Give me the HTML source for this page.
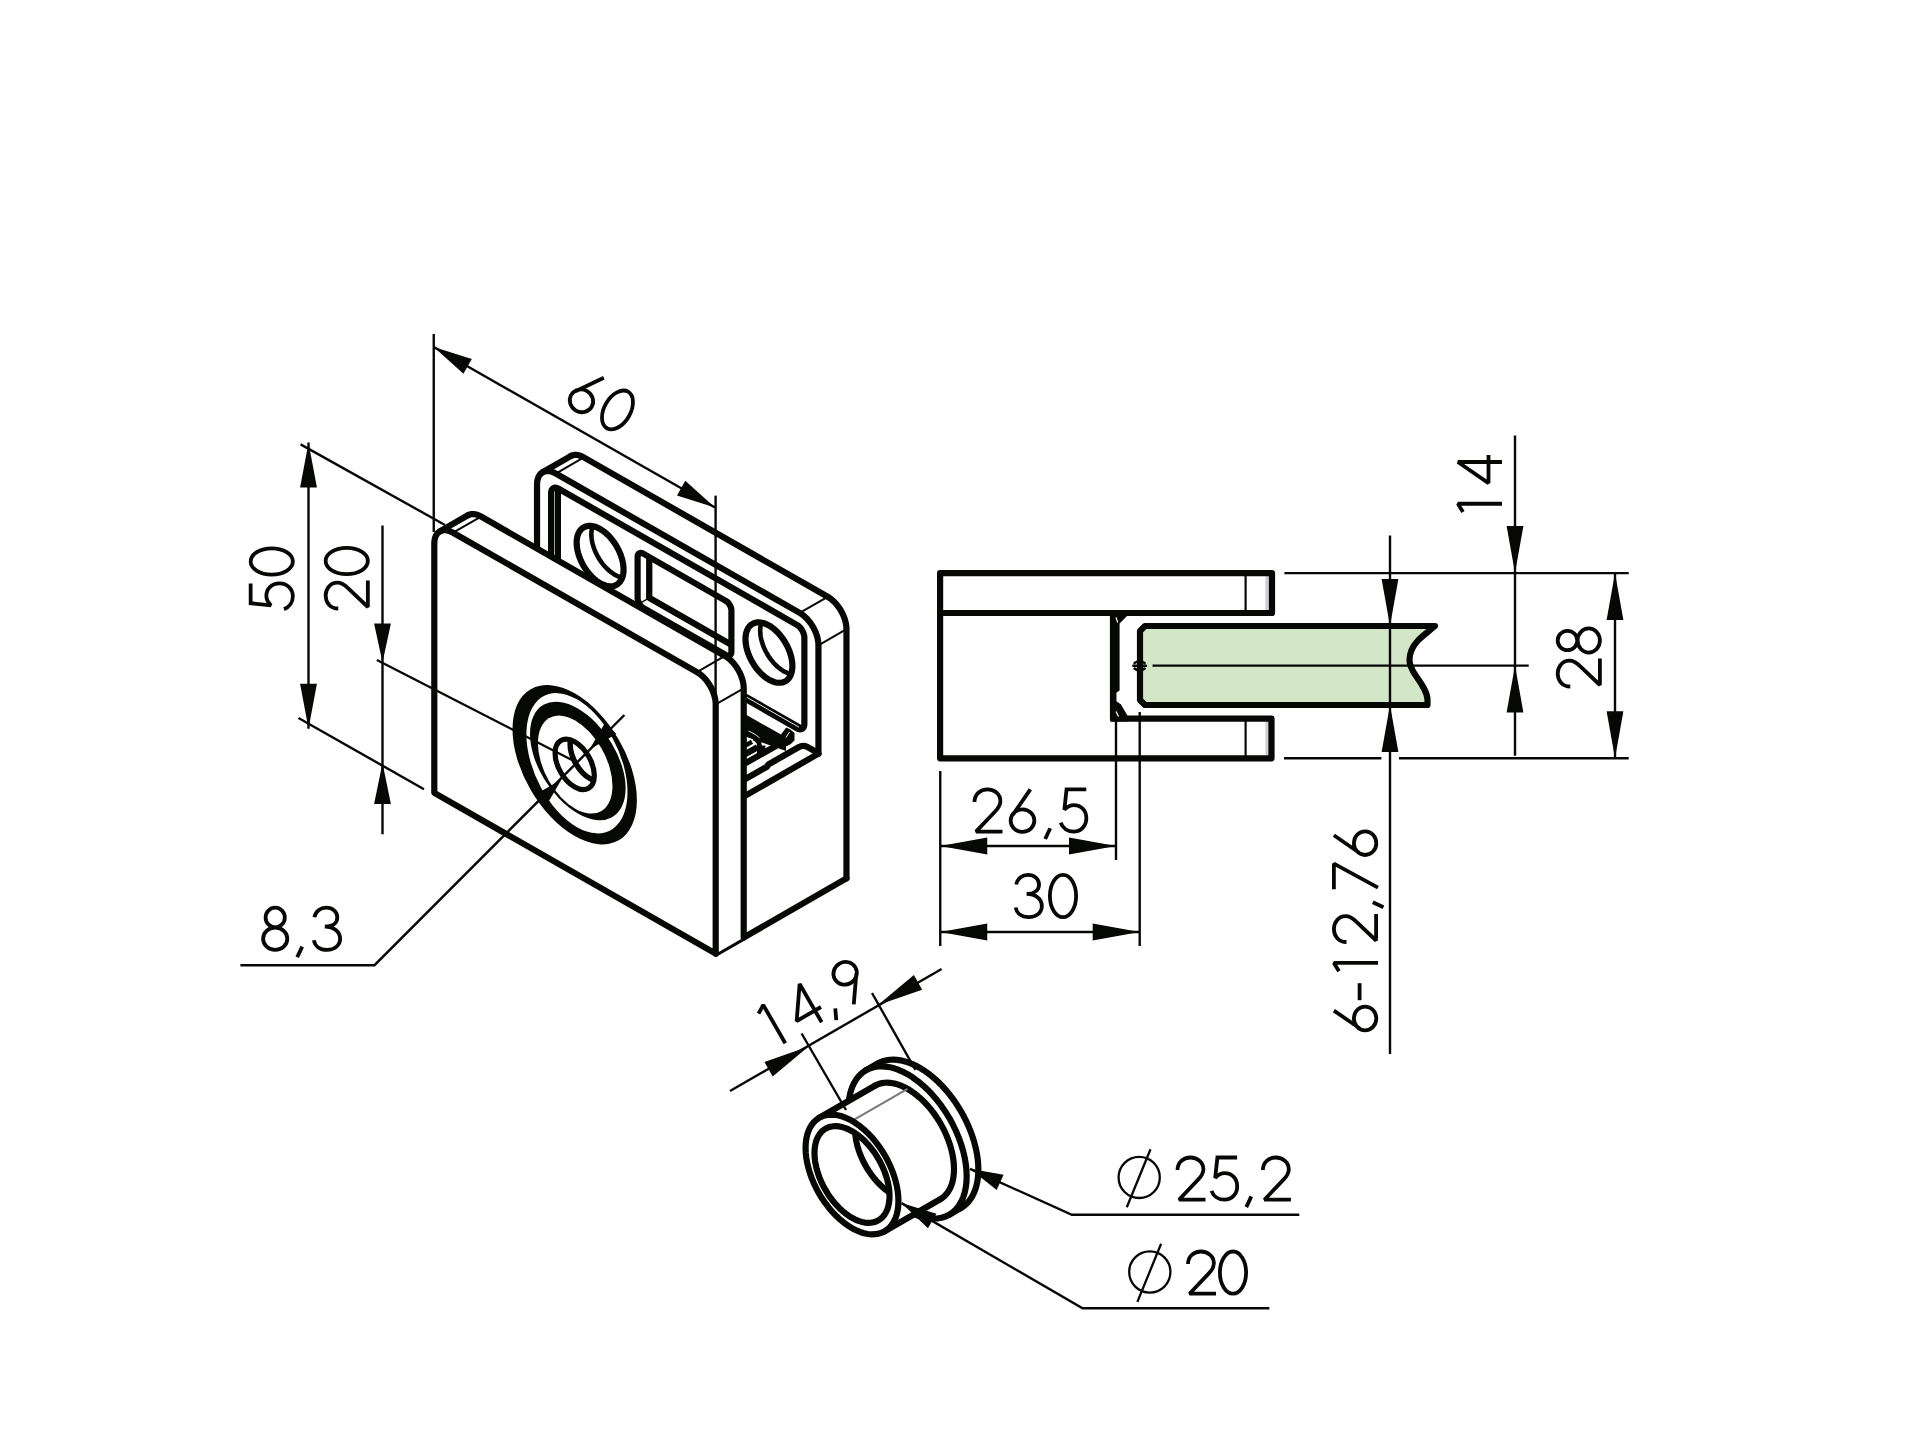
<!DOCTYPE html><html><head><meta charset="utf-8"><style>html,body{margin:0;padding:0;background:#fff;font-family:"Liberation Sans",sans-serif;}svg{display:block;}</style></head><body><svg width="1920" height="1440" viewBox="0 0 1920 1440">
<rect width="1920" height="1440" fill="#ffffff"/>
<rect x="1265.4" y="576" width="3.6" height="34" fill="#d2c9da"/>
<rect x="1265.4" y="721.5" width="3.6" height="34" fill="#d2c9da"/>
<line x1="1245.60" y1="573.10" x2="1245.60" y2="613.00" stroke="#060806" stroke-width="2.2" stroke-linecap="butt"/>
<line x1="1245.60" y1="718.70" x2="1245.60" y2="758.30" stroke="#060806" stroke-width="2.2" stroke-linecap="butt"/>
<path d="M1140,631 L1145,626 L1435,626 C1428,632 1421,637 1417.5,641 C1413,646 1409.5,653 1409.5,660 C1409.5,666 1412.5,671 1416,676 C1421,683 1427.5,692 1427.5,700 L1427.5,705 L1145,705 L1140,700 Z" fill="#d3e6c8" stroke="#060806" stroke-width="6.2" stroke-linejoin="round" stroke-linecap="round" />
<path d="M940.10,573.10 L1272.00,573.10 L1272.00,613.00 L1113.00,613.00 L1113.00,718.70 L1271.50,718.70 L1271.50,758.30 L940.10,758.30 Z" fill="none" stroke="#060806" stroke-width="6.2" stroke-linejoin="round" stroke-linecap="round"/>
<line x1="940.10" y1="613.00" x2="1113.00" y2="613.00" stroke="#060806" stroke-width="6.2" stroke-linecap="butt"/>
<path d="M1110.20,613.00 L1127.50,613.00 L1127.50,615.50 L1119.60,623.50 L1119.60,690.50 L1116.40,692.80 L1116.40,701.20 L1120.80,704.20 L1127.30,715.20 L1127.30,721.50 L1110.20,721.50 Z" fill="#060806" stroke="none"/>
<line x1="1116.00" y1="617.50" x2="1117.80" y2="622.50" stroke="#ffffff" stroke-width="1.2" stroke-linecap="butt"/>
<line x1="1116.00" y1="711.50" x2="1118.50" y2="716.50" stroke="#ffffff" stroke-width="1.2" stroke-linecap="butt"/>
<line x1="1152.50" y1="665.60" x2="1528.75" y2="665.60" stroke="#060806" stroke-width="2.4" stroke-linecap="butt"/>
<path d="M1134.6,663.0 Q1139.6,659.6 1144.6,663.0 M1133.3,665.8 L1145.9,665.8 M1134.6,668.6 Q1139.6,672.0 1144.6,668.6" fill="none" stroke="#060806" stroke-width="2.5" stroke-linecap="round"/>
<path d="M537.04,592.83 L537.04,484.49 L537.08,483.09 L537.20,481.75 L537.40,480.47 L537.68,479.25 L538.04,478.09 L538.47,477.01 L538.97,476.01 L539.55,475.09 L540.20,474.26 L540.92,473.51 L541.70,472.86 L542.53,472.31 L543.43,471.85 L544.38,471.49 L545.38,471.24 L546.42,471.08 L547.50,471.03 L548.62,471.09 L549.77,471.24 L550.94,471.50 L552.14,471.86 L553.35,472.33 L554.57,472.89 L555.80,473.54 L799.68,612.90 L800.91,613.65 L802.13,614.48 L803.34,615.41 L804.54,616.41 L805.71,617.50 L806.86,618.65 L807.98,619.88 L809.06,621.16 L810.10,622.51 L811.10,623.90 L812.05,625.35 L812.95,626.83 L813.78,628.34 L814.56,629.88 L815.28,631.44 L815.93,633.02 L816.51,634.60 L817.01,636.18 L817.44,637.75 L817.80,639.31 L818.08,640.85 L818.28,642.37 L818.40,643.85 L818.44,645.29 L818.44,753.63" fill="none" stroke="#060806" stroke-width="6.2" stroke-linejoin="round" stroke-linecap="round"/>
<path d="M570.65,456.11 L571.09,455.88 L571.54,455.67 L572.01,455.48 L572.49,455.32 L572.98,455.19 L573.48,455.08 L573.99,455.00 L574.52,454.94 L575.05,454.90 L575.59,454.89 L576.14,454.91 L576.70,454.95 L577.27,455.02 L577.84,455.11 L578.42,455.23 L579.01,455.37 L579.60,455.54 L580.19,455.74 L580.79,455.95 L581.39,456.20 L582.00,456.46 L582.60,456.75 L583.21,457.06 L583.82,457.40 L827.70,596.76 L828.93,597.51 L830.15,598.34 L831.36,599.27 L832.56,600.27 L833.73,601.36 L834.88,602.51 L836.00,603.74 L837.08,605.02 L838.12,606.37 L839.12,607.76 L840.07,609.21 L840.97,610.69 L841.80,612.20 L842.58,613.74 L843.30,615.30 L843.95,616.88 L844.53,618.46 L845.03,620.04 L845.46,621.61 L845.82,623.17 L846.10,624.71 L846.30,626.23 L846.42,627.71 L846.46,629.15 L846.46,878.33" fill="none" stroke="#060806" stroke-width="6.2" stroke-linejoin="round" stroke-linecap="round"/>
<path d="M542.63,472.25 L570.65,456.11" fill="none" stroke="#060806" stroke-width="6.2" stroke-linejoin="round" stroke-linecap="round"/>
<line x1="555.80" y1="473.54" x2="583.82" y2="457.40" stroke="#060806" stroke-width="2.0" stroke-linecap="butt"/>
<line x1="799.68" y1="612.90" x2="827.70" y2="596.76" stroke="#060806" stroke-width="2.0" stroke-linecap="butt"/>
<line x1="818.44" y1="645.29" x2="846.46" y2="629.15" stroke="#060806" stroke-width="2.0" stroke-linecap="butt"/>
<clipPath id="c1"><path d="M804.37,637.79 L804.28,636.38 L804.00,634.90 L803.55,633.39 L802.94,631.88 L802.17,630.41 L801.28,629.01 L800.27,627.73 L799.18,626.58 L798.04,625.61 L796.87,624.83 L558.61,488.69 L557.44,488.13 L556.30,487.79 L555.21,487.69 L554.20,487.83 L553.31,488.20 L552.54,488.79 L551.93,489.60 L551.48,490.60 L551.20,491.77 L551.11,493.07 L551.11,579.20 L551.20,580.61 L551.48,582.09 L551.93,583.60 L552.54,585.11 L553.31,586.58 L554.20,587.98 L555.21,589.26 L556.30,590.41 L557.44,591.38 L558.61,592.16 L796.87,728.30 L798.04,728.86 L799.18,729.20 L800.27,729.30 L801.28,729.16 L802.17,728.79 L802.94,728.20 L803.55,727.39 L804.00,726.39 L804.28,725.22 L804.37,723.92 Z"/></clipPath>
<g clip-path="url(#c1)">
<path d="M811.14,625.22 L565.39,484.79 L564.21,484.23 L563.07,483.89 L561.98,483.79 L560.97,483.92 L560.08,484.30 L559.31,484.89 L558.70,485.70 L558.25,486.70 L557.97,487.87 L557.88,489.17 L557.88,594.80" fill="none" stroke="#060806" stroke-width="6.2" stroke-linejoin="round" stroke-linecap="round"/>
</g>
<path d="M804.37,637.79 L804.28,636.38 L804.00,634.90 L803.55,633.39 L802.94,631.88 L802.17,630.41 L801.28,629.01 L800.27,627.73 L799.18,626.58 L798.04,625.61 L796.87,624.83 L558.61,488.69 L557.44,488.13 L556.30,487.79 L555.21,487.69 L554.20,487.83 L553.31,488.20 L552.54,488.79 L551.93,489.60 L551.48,490.60 L551.20,491.77 L551.11,493.07 L551.11,579.20 L551.20,580.61 L551.48,582.09 L551.93,583.60 L552.54,585.11 L553.31,586.58 L554.20,587.98 L555.21,589.26 L556.30,590.41 L557.44,591.38 L558.61,592.16 L796.87,728.30 L798.04,728.86 L799.18,729.20 L800.27,729.30 L801.28,729.16 L802.17,728.79 L802.94,728.20 L803.55,727.39 L804.00,726.39 L804.28,725.22 L804.37,723.92 Z" fill="none" stroke="#060806" stroke-width="6.2" stroke-linejoin="round" stroke-linecap="round"/>
<clipPath id="c2"><path d="M623.54,569.48 L623.45,567.07 L623.19,564.58 L622.74,562.02 L622.13,559.41 L621.34,556.78 L620.40,554.15 L619.30,551.52 L618.06,548.94 L616.67,546.41 L615.16,543.95 L613.54,541.58 L611.82,539.33 L610.00,537.20 L608.11,535.21 L606.16,533.39 L604.16,531.74 L602.14,530.27 L600.09,529.00 L598.05,527.93 L596.02,527.08 L594.02,526.45 L592.07,526.05 L590.18,525.87 L588.37,525.93 L586.64,526.21 L585.02,526.72 L583.51,527.46 L582.13,528.41 L580.88,529.57 L579.78,530.94 L578.84,532.49 L578.06,534.23 L577.44,536.13 L577.00,538.18 L576.73,540.37 L576.64,542.68 L576.73,545.10 L577.00,547.59 L577.44,550.15 L578.06,552.76 L578.84,555.39 L579.78,558.02 L580.88,560.64 L582.13,563.23 L583.51,565.76 L585.02,568.22 L586.64,570.58 L588.37,572.84 L590.18,574.97 L592.07,576.95 L594.02,578.78 L596.02,580.43 L598.05,581.90 L600.09,583.17 L602.14,584.23 L604.16,585.08 L606.16,585.71 L608.11,586.12 L610.00,586.29 L611.82,586.24 L613.54,585.96 L615.16,585.45 L616.67,584.71 L618.06,583.76 L619.30,582.60 L620.40,581.23 L621.34,579.67 L622.13,577.94 L622.74,576.04 L623.19,573.98 L623.45,571.79 L623.54,569.48 Z"/></clipPath>
<g clip-path="url(#c2)">
<path d="M638.25,561.01 L638.16,558.60 L637.90,556.10 L637.45,553.54 L636.84,550.94 L636.05,548.31 L635.11,545.67 L634.01,543.05 L632.77,540.47 L631.38,537.93 L629.88,535.48 L628.25,533.11 L626.53,530.85 L624.71,528.73 L622.82,526.74 L620.87,524.92 L618.87,523.26 L616.85,521.80 L614.80,520.53 L612.76,519.46 L610.73,518.61 L608.73,517.98 L606.78,517.58 L604.89,517.40 L603.08,517.45 L601.35,517.74 L599.73,518.25 L598.22,518.98 L596.84,519.94 L595.59,521.10 L594.49,522.46 L593.55,524.02 L592.77,525.75 L592.15,527.66 L591.71,529.71 L591.44,531.90 L591.35,534.21 L591.44,536.62 L591.71,539.12 L592.15,541.68 L592.77,544.28 L593.55,546.91 L594.49,549.55 L595.59,552.17 L596.84,554.75 L598.22,557.29 L599.73,559.74 L601.35,562.11 L603.08,564.37 L604.89,566.49 L606.78,568.48 L608.73,570.30 L610.73,571.96 L612.76,573.42 L614.80,574.70 L616.85,575.76 L618.87,576.61 L620.87,577.24 L622.82,577.64 L624.71,577.82 L626.53,577.77 L628.25,577.48 L629.88,576.97 L631.38,576.24 L632.77,575.28 L634.01,574.12 L635.11,572.76 L636.05,571.20 L636.84,569.47 L637.45,567.56 L637.90,565.51 L638.16,563.32 L638.25,561.01 Z" fill="none" stroke="#060806" stroke-width="4.6" stroke-linejoin="round" stroke-linecap="round"/>
</g>
<path d="M623.54,569.48 L623.45,567.07 L623.19,564.58 L622.74,562.02 L622.13,559.41 L621.34,556.78 L620.40,554.15 L619.30,551.52 L618.06,548.94 L616.67,546.41 L615.16,543.95 L613.54,541.58 L611.82,539.33 L610.00,537.20 L608.11,535.21 L606.16,533.39 L604.16,531.74 L602.14,530.27 L600.09,529.00 L598.05,527.93 L596.02,527.08 L594.02,526.45 L592.07,526.05 L590.18,525.87 L588.37,525.93 L586.64,526.21 L585.02,526.72 L583.51,527.46 L582.13,528.41 L580.88,529.57 L579.78,530.94 L578.84,532.49 L578.06,534.23 L577.44,536.13 L577.00,538.18 L576.73,540.37 L576.64,542.68 L576.73,545.10 L577.00,547.59 L577.44,550.15 L578.06,552.76 L578.84,555.39 L579.78,558.02 L580.88,560.64 L582.13,563.23 L583.51,565.76 L585.02,568.22 L586.64,570.58 L588.37,572.84 L590.18,574.97 L592.07,576.95 L594.02,578.78 L596.02,580.43 L598.05,581.90 L600.09,583.17 L602.14,584.23 L604.16,585.08 L606.16,585.71 L608.11,586.12 L610.00,586.29 L611.82,586.24 L613.54,585.96 L615.16,585.45 L616.67,584.71 L618.06,583.76 L619.30,582.60 L620.40,581.23 L621.34,579.67 L622.13,577.94 L622.74,576.04 L623.19,573.98 L623.45,571.79 L623.54,569.48 Z" fill="none" stroke="#060806" stroke-width="6.2" stroke-linejoin="round" stroke-linecap="round"/>
<clipPath id="c3"><path d="M792.38,665.96 L792.29,663.55 L792.03,661.06 L791.58,658.50 L790.97,655.89 L790.18,653.26 L789.24,650.63 L788.14,648.00 L786.90,645.42 L785.51,642.89 L784.00,640.43 L782.38,638.06 L780.66,635.81 L778.84,633.68 L776.95,631.69 L775.00,629.87 L773.00,628.22 L770.98,626.75 L768.93,625.48 L766.89,624.41 L764.86,623.56 L762.86,622.93 L760.91,622.53 L759.02,622.35 L757.21,622.41 L755.48,622.69 L753.86,623.20 L752.35,623.94 L750.97,624.89 L749.72,626.05 L748.62,627.42 L747.68,628.97 L746.90,630.71 L746.28,632.61 L745.84,634.66 L745.57,636.85 L745.48,639.16 L745.57,641.58 L745.84,644.07 L746.28,646.63 L746.90,649.24 L747.68,651.87 L748.62,654.50 L749.72,657.12 L750.97,659.71 L752.35,662.24 L753.86,664.70 L755.48,667.06 L757.21,669.32 L759.02,671.45 L760.91,673.43 L762.86,675.26 L764.86,676.91 L766.89,678.38 L768.93,679.65 L770.98,680.71 L773.00,681.56 L775.00,682.19 L776.95,682.60 L778.84,682.77 L780.66,682.72 L782.38,682.44 L784.00,681.93 L785.51,681.19 L786.90,680.24 L788.14,679.08 L789.24,677.71 L790.18,676.15 L790.97,674.42 L791.58,672.52 L792.03,670.46 L792.29,668.27 L792.38,665.96 Z"/></clipPath>
<g clip-path="url(#c3)">
<path d="M807.09,657.49 L807.00,655.08 L806.74,652.58 L806.29,650.02 L805.68,647.42 L804.89,644.79 L803.95,642.15 L802.85,639.53 L801.61,636.95 L800.22,634.41 L798.72,631.96 L797.09,629.59 L795.37,627.33 L793.55,625.21 L791.66,623.22 L789.71,621.40 L787.71,619.74 L785.69,618.28 L783.64,617.01 L781.60,615.94 L779.57,615.09 L777.57,614.46 L775.62,614.06 L773.73,613.88 L771.92,613.93 L770.19,614.22 L768.57,614.73 L767.06,615.46 L765.68,616.42 L764.43,617.58 L763.33,618.94 L762.39,620.50 L761.61,622.23 L760.99,624.14 L760.55,626.19 L760.28,628.38 L760.19,630.69 L760.28,633.10 L760.55,635.60 L760.99,638.16 L761.61,640.76 L762.39,643.39 L763.33,646.03 L764.43,648.65 L765.68,651.23 L767.06,653.77 L768.57,656.22 L770.19,658.59 L771.92,660.85 L773.73,662.97 L775.62,664.96 L777.57,666.78 L779.57,668.44 L781.60,669.90 L783.64,671.18 L785.69,672.24 L787.71,673.09 L789.71,673.72 L791.66,674.12 L793.55,674.30 L795.37,674.25 L797.09,673.96 L798.72,673.45 L800.22,672.72 L801.61,671.76 L802.85,670.60 L803.95,669.24 L804.89,667.68 L805.68,665.95 L806.29,664.04 L806.74,661.99 L807.00,659.80 L807.09,657.49 Z" fill="none" stroke="#060806" stroke-width="4.6" stroke-linejoin="round" stroke-linecap="round"/>
</g>
<path d="M792.38,665.96 L792.29,663.55 L792.03,661.06 L791.58,658.50 L790.97,655.89 L790.18,653.26 L789.24,650.63 L788.14,648.00 L786.90,645.42 L785.51,642.89 L784.00,640.43 L782.38,638.06 L780.66,635.81 L778.84,633.68 L776.95,631.69 L775.00,629.87 L773.00,628.22 L770.98,626.75 L768.93,625.48 L766.89,624.41 L764.86,623.56 L762.86,622.93 L760.91,622.53 L759.02,622.35 L757.21,622.41 L755.48,622.69 L753.86,623.20 L752.35,623.94 L750.97,624.89 L749.72,626.05 L748.62,627.42 L747.68,628.97 L746.90,630.71 L746.28,632.61 L745.84,634.66 L745.57,636.85 L745.48,639.16 L745.57,641.58 L745.84,644.07 L746.28,646.63 L746.90,649.24 L747.68,651.87 L748.62,654.50 L749.72,657.12 L750.97,659.71 L752.35,662.24 L753.86,664.70 L755.48,667.06 L757.21,669.32 L759.02,671.45 L760.91,673.43 L762.86,675.26 L764.86,676.91 L766.89,678.38 L768.93,679.65 L770.98,680.71 L773.00,681.56 L775.00,682.19 L776.95,682.60 L778.84,682.77 L780.66,682.72 L782.38,682.44 L784.00,681.93 L785.51,681.19 L786.90,680.24 L788.14,679.08 L789.24,677.71 L790.18,676.15 L790.97,674.42 L791.58,672.52 L792.03,670.46 L792.29,668.27 L792.38,665.96 Z" fill="none" stroke="#060806" stroke-width="6.2" stroke-linejoin="round" stroke-linecap="round"/>
<clipPath id="c4"><path d="M731.41,610.54 L731.34,609.48 L731.14,608.37 L730.80,607.24 L730.34,606.10 L729.76,605.00 L729.09,603.95 L728.34,602.99 L727.52,602.13 L726.66,601.41 L725.78,600.82 L643.24,553.65 L642.36,553.23 L641.50,552.98 L640.68,552.90 L639.93,553.01 L639.26,553.28 L638.69,553.73 L638.22,554.34 L637.89,555.09 L637.68,555.96 L637.61,556.94 L637.61,598.11 L637.68,599.16 L637.89,600.27 L638.22,601.41 L638.69,602.54 L639.26,603.65 L639.93,604.69 L640.68,605.66 L641.50,606.51 L642.36,607.24 L643.24,607.82 L725.78,654.99 L726.66,655.42 L727.52,655.67 L728.34,655.74 L729.09,655.64 L729.76,655.36 L730.34,654.91 L730.80,654.31 L731.14,653.56 L731.34,652.69 L731.41,651.71 Z"/></clipPath>
<g clip-path="url(#c4)">
<path d="M743.09,598.13 L743.08,597.99 L743.05,597.86 L743.01,597.71 L742.95,597.57 L742.88,597.43 L742.80,597.30 L742.70,597.18 L742.60,597.08 L742.49,596.98 L742.38,596.91 L649.99,544.12 L649.88,544.06 L649.77,544.03 L649.67,544.02 L649.58,544.03 L649.49,544.07 L649.42,544.13 L649.36,544.20 L649.32,544.29 L649.30,544.40 L649.29,544.53 L649.29,597.07 L649.30,597.20 L649.32,597.34 L649.36,597.48 L649.42,597.63 L649.49,597.76 L649.58,597.89 L649.67,598.01 L649.77,598.12 L649.88,598.21 L649.99,598.29 L742.38,651.08 L742.49,651.13 L742.60,651.17 L742.70,651.18 L742.80,651.16 L742.88,651.13 L742.95,651.07 L743.01,651.00 L743.05,650.90 L743.08,650.79 L743.09,650.67 Z" fill="none" stroke="#060806" stroke-width="6.2" stroke-linejoin="round" stroke-linecap="round"/>
<path d="M740.99,599.34 L740.98,599.20 L740.95,599.07 L740.91,598.92 L740.85,598.78 L740.78,598.64 L740.70,598.51 L740.60,598.39 L740.50,598.29 L740.39,598.19 L740.28,598.12 L647.89,545.33 L647.78,545.27 L647.67,545.24 L647.57,545.23 L647.47,545.24 L647.39,545.28 L647.32,545.34 L647.26,545.41 L647.22,545.51 L647.19,545.61 L647.19,545.74 L647.19,598.28 L647.19,598.41 L647.22,598.55 L647.26,598.69 L647.32,598.84 L647.39,598.97 L647.47,599.10 L647.57,599.22 L647.67,599.33 L647.78,599.42 L647.89,599.50 L740.28,652.29 L740.39,652.34 L740.50,652.38 L740.60,652.39 L740.70,652.37 L740.78,652.34 L740.85,652.28 L740.91,652.21 L740.95,652.11 L740.98,652.00 L740.99,651.88 Z" fill="none" stroke="#060806" stroke-width="1.4" stroke-linejoin="round" stroke-linecap="round"/>
<line x1="637.61" y1="604.61" x2="649.29" y2="597.88" stroke="#060806" stroke-width="1.4" stroke-linecap="butt"/>
</g>
<path d="M731.41,610.54 L731.34,609.48 L731.14,608.37 L730.80,607.24 L730.34,606.10 L729.76,605.00 L729.09,603.95 L728.34,602.99 L727.52,602.13 L726.66,601.41 L725.78,600.82 L643.24,553.65 L642.36,553.23 L641.50,552.98 L640.68,552.90 L639.93,553.01 L639.26,553.28 L638.69,553.73 L638.22,554.34 L637.89,555.09 L637.68,555.96 L637.61,556.94 L637.61,598.11 L637.68,599.16 L637.89,600.27 L638.22,601.41 L638.69,602.54 L639.26,603.65 L639.93,604.69 L640.68,605.66 L641.50,606.51 L642.36,607.24 L643.24,607.82 L725.78,654.99 L726.66,655.42 L727.52,655.67 L728.34,655.74 L729.09,655.64 L729.76,655.36 L730.34,654.91 L730.80,654.31 L731.14,653.56 L731.34,652.69 L731.41,651.71 Z" fill="none" stroke="#060806" stroke-width="6.2" stroke-linejoin="round" stroke-linecap="round"/>
<line x1="715.70" y1="953.65" x2="846.46" y2="878.33" stroke="#060806" stroke-width="6.2" stroke-linecap="round"/>
<line x1="743.72" y1="796.67" x2="818.44" y2="753.63" stroke="#060806" stroke-width="6.2" stroke-linecap="round"/>
<path d="M744,695.2 L801.5,728.0" fill="none" stroke="#060806" stroke-width="5.2" stroke-linejoin="round" stroke-linecap="butt" />
<path d="M747,697.4 L799,727.2" fill="none" stroke="#ffffff" stroke-width="0.9" stroke-linejoin="round" stroke-linecap="butt" />
<path d="M744.00,713.50 L781.00,734.60 L786.20,727.60 L790.00,729.30 L794.50,733.00 L794.50,740.60 L790.50,744.20 L786.00,746.50 L786.00,751.00 L744.00,736.00 Z" fill="#060806" stroke="none"/>
<path d="M748.5,731.0 C752,732.6 756,734.6 759.5,737.8" fill="none" stroke="#ffffff" stroke-width="0.9" stroke-linejoin="round" stroke-linecap="butt" />
<path d="M789.5,732 L786,737.5" fill="none" stroke="#ffffff" stroke-width="1.0" stroke-linejoin="round" stroke-linecap="butt" />
<path d="M744,779.8 L767,766.7 C768,764.5 769.5,763.5 771,763 L798.5,747.2 C801.5,745.5 804.5,745.5 807,746.8 L818.6,753.3" fill="none" stroke="#060806" stroke-width="6.2" stroke-linejoin="round" stroke-linecap="butt" />
<path d="M744,764.0 L778,744.8" fill="none" stroke="#060806" stroke-width="6.2" stroke-linejoin="round" stroke-linecap="butt" />
<path d="M744,754.8 L757.5,747.3" fill="none" stroke="#060806" stroke-width="6.2" stroke-linejoin="round" stroke-linecap="butt" />
<path d="M744,746.2 L752,741.8" fill="none" stroke="#060806" stroke-width="4.5" stroke-linejoin="round" stroke-linecap="butt" />
<path d="M759.4,753.5 L759.4,745.5 C759.4,742 757.5,739.5 753.5,738.0" fill="none" stroke="#060806" stroke-width="4.8" stroke-linejoin="round" stroke-linecap="butt" />
<path d="M763.0,751.5 L763.0,745.5" fill="none" stroke="#060806" stroke-width="4.8" stroke-linejoin="round" stroke-linecap="butt" />
<path d="M434.30,792.85 L434.30,543.67 L434.31,542.96 L434.34,542.26 L434.39,541.58 L434.46,540.91 L434.56,540.25 L434.67,539.61 L434.80,538.99 L434.95,538.38 L435.12,537.79 L435.31,537.22 L435.52,536.67 L435.75,536.14 L436.00,535.62 L436.27,535.13 L436.55,534.66 L436.86,534.21 L437.18,533.78 L437.52,533.37 L437.87,532.99 L438.24,532.63 L438.63,532.29 L439.03,531.98 L439.45,531.70 L439.89,531.43 L467.91,515.29 L468.35,515.06 L468.80,514.85 L469.27,514.66 L469.75,514.50 L470.24,514.37 L470.74,514.26 L471.25,514.18 L471.78,514.12 L472.31,514.08 L472.85,514.07 L473.40,514.09 L473.96,514.13 L474.53,514.20 L475.10,514.29 L475.68,514.41 L476.27,514.55 L476.86,514.72 L477.45,514.92 L478.05,515.13 L478.65,515.38 L479.26,515.64 L479.86,515.93 L480.47,516.24 L481.08,516.58 L724.96,655.94 L726.19,656.69 L727.41,657.52 L728.62,658.45 L729.82,659.45 L730.99,660.54 L732.14,661.69 L733.26,662.92 L734.34,664.20 L735.38,665.55 L736.38,666.94 L737.33,668.39 L738.23,669.87 L739.06,671.38 L739.84,672.92 L740.56,674.48 L741.21,676.06 L741.79,677.64 L742.29,679.22 L742.72,680.79 L743.08,682.35 L743.36,683.89 L743.56,685.41 L743.68,686.89 L743.72,688.33 L743.72,937.51 L715.70,953.65 Z" fill="#ffffff" stroke="none"/>
<path d="M434.30,792.85 L434.30,543.67 L434.34,542.27 L434.46,540.93 L434.66,539.65 L434.94,538.43 L435.30,537.27 L435.73,536.19 L436.23,535.19 L436.81,534.27 L437.46,533.44 L438.18,532.69 L438.96,532.04 L439.79,531.49 L440.69,531.03 L441.64,530.67 L442.64,530.42 L443.68,530.26 L444.76,530.21 L445.88,530.27 L447.03,530.42 L448.20,530.68 L449.40,531.04 L450.61,531.51 L451.83,532.07 L453.06,532.72 L696.94,672.08 L698.17,672.83 L699.39,673.66 L700.60,674.59 L701.80,675.59 L702.97,676.68 L704.12,677.83 L705.24,679.06 L706.32,680.34 L707.36,681.69 L708.36,683.08 L709.31,684.53 L710.21,686.01 L711.04,687.52 L711.82,689.06 L712.54,690.62 L713.19,692.20 L713.77,693.78 L714.27,695.36 L714.70,696.93 L715.06,698.49 L715.34,700.03 L715.54,701.55 L715.66,703.03 L715.70,704.47 L715.70,953.65 Z" fill="none" stroke="#060806" stroke-width="6.2" stroke-linejoin="round" stroke-linecap="round"/>
<path d="M467.91,515.29 L468.35,515.06 L468.80,514.85 L469.27,514.66 L469.75,514.50 L470.24,514.37 L470.74,514.26 L471.25,514.18 L471.78,514.12 L472.31,514.08 L472.85,514.07 L473.40,514.09 L473.96,514.13 L474.53,514.20 L475.10,514.29 L475.68,514.41 L476.27,514.55 L476.86,514.72 L477.45,514.92 L478.05,515.13 L478.65,515.38 L479.26,515.64 L479.86,515.93 L480.47,516.24 L481.08,516.58 L724.96,655.94 L726.19,656.69 L727.41,657.52 L728.62,658.45 L729.82,659.45 L730.99,660.54 L732.14,661.69 L733.26,662.92 L734.34,664.20 L735.38,665.55 L736.38,666.94 L737.33,668.39 L738.23,669.87 L739.06,671.38 L739.84,672.92 L740.56,674.48 L741.21,676.06 L741.79,677.64 L742.29,679.22 L742.72,680.79 L743.08,682.35 L743.36,683.89 L743.56,685.41 L743.68,686.89 L743.72,688.33 L743.72,937.51" fill="none" stroke="#060806" stroke-width="6.2" stroke-linejoin="round" stroke-linecap="round"/>
<line x1="439.89" y1="531.43" x2="467.91" y2="515.29" stroke="#060806" stroke-width="6.2" stroke-linecap="round"/>
<line x1="453.06" y1="532.72" x2="481.08" y2="516.58" stroke="#060806" stroke-width="2.0" stroke-linecap="butt"/>
<line x1="696.94" y1="672.08" x2="724.96" y2="655.94" stroke="#060806" stroke-width="2.0" stroke-linecap="butt"/>
<line x1="715.70" y1="704.47" x2="743.72" y2="688.33" stroke="#060806" stroke-width="2.0" stroke-linecap="butt"/>
<ellipse cx="0" cy="0" rx="1" ry="1" transform="matrix(62.1894,35.5368,0,-71.3419,574.70,764.70)" fill="#060806"/>
<ellipse cx="0" cy="0" rx="1" ry="1" transform="matrix(50.5582,28.8904,0,-63.9206,576.95,763.25)" fill="#ffffff"/>
<ellipse cx="0" cy="0" rx="1" ry="1" transform="matrix(47.7911,27.3092,0,-52.5449,577.80,761.00)" fill="#060806"/>
<ellipse cx="0" cy="0" rx="1" ry="1" transform="matrix(37.2855,21.3060,0,-44.1486,575.20,764.60)" fill="#ffffff"/>
<clipPath id="e5clip"><circle cx="0" cy="0" r="4.18" transform="matrix(4.69,2.68,0.0,-5.417,574.70,764.40)"/></clipPath>
<g clip-path="url(#e5clip)"><circle cx="0" cy="0" r="4.18" transform="matrix(4.69,2.68,0.0,-5.417,589.77,755.73)" vector-effect="non-scaling-stroke" fill="none" stroke="#060806" stroke-width="5.5"/></g>
<circle cx="0" cy="0" r="4.18" transform="matrix(4.69,2.68,0.0,-5.417,574.70,764.40)" vector-effect="non-scaling-stroke" fill="none" stroke="#060806" stroke-width="5.2"/>
<path d="M561.50,779.50 L534.63,795.06 L545.94,806.37 Z" fill="#060806" stroke="none"/>
<path d="M589.50,749.50 L616.37,733.94 L605.06,722.63 Z" fill="#060806" stroke="none"/>
<path d="M960.81,1208.03 L963.47,1206.31 L965.94,1204.28 L968.21,1201.96 L970.27,1199.36 L972.11,1196.48 L973.72,1193.34 L975.11,1189.96 L976.25,1186.35 L977.15,1182.51 L977.80,1178.48 L978.19,1174.27 L978.34,1169.89 L978.23,1165.36 L977.88,1160.71 L977.27,1155.95 L976.41,1151.11 L975.30,1146.20 L973.96,1141.24 L972.38,1136.26 L970.58,1131.28 L968.55,1126.32 L966.32,1121.39 L963.88,1116.53 L961.25,1111.76 L958.44,1107.08 L955.47,1102.53 L952.34,1098.12 L949.06,1093.87 L945.66,1089.80 L942.15,1085.93 L938.54,1082.27 L934.84,1078.84 L931.08,1075.65 L927.27,1072.72 L923.42,1070.07 L919.56,1067.69 L915.69,1065.60 L911.84,1063.82 L908.02,1062.34 L904.25,1061.18 L900.55,1060.33 L896.92,1059.81 L893.39,1059.62 L889.97,1059.75 L886.67,1060.20 L883.52,1060.98 L880.52,1062.08 L877.68,1063.50" fill="none" stroke="#060806" stroke-width="6.2" stroke-linejoin="round" stroke-linecap="round"/>
<line x1="949.14" y1="1214.76" x2="960.81" y2="1208.03" stroke="#060806" stroke-width="6.2" stroke-linecap="round"/>
<line x1="866.01" y1="1070.22" x2="877.68" y2="1063.50" stroke="#060806" stroke-width="6.2" stroke-linecap="round"/>
<path d="M966.67,1176.26 L966.44,1170.18 L965.77,1163.89 L964.65,1157.44 L963.10,1150.88 L961.13,1144.25 L958.75,1137.61 L955.98,1131.00 L952.84,1124.48 L949.36,1118.10 L945.56,1111.91 L941.47,1105.95 L937.12,1100.26 L932.55,1094.90 L927.78,1089.90 L922.87,1085.30 L917.83,1081.14 L912.72,1077.44 L907.57,1074.23 L902.42,1071.55 L897.31,1069.41 L892.28,1067.82 L887.36,1066.80 L882.60,1066.36 L878.03,1066.50 L873.68,1067.21 L869.59,1068.50 L865.79,1070.35 L862.30,1072.75 L859.17,1075.68 L856.40,1079.12 L854.02,1083.04 L852.04,1087.41 L850.49,1092.21 L849.38,1097.38 L848.70,1102.90 L848.48,1108.72 L848.70,1114.80 L849.38,1121.09 L850.49,1127.54 L852.04,1134.10 L854.02,1140.73 L856.40,1147.37 L859.17,1153.98 L862.30,1160.49 L865.79,1166.87 L869.59,1173.07 L873.68,1179.03 L878.03,1184.71 L882.60,1190.08 L887.36,1195.08 L892.28,1199.68 L897.31,1203.84 L902.42,1207.54 L907.57,1210.74 L912.72,1213.43 L917.83,1215.57 L922.87,1217.16 L927.78,1218.18 L932.55,1218.62 L937.12,1218.48 L941.47,1217.77 L945.56,1216.48 L949.36,1214.63 L952.84,1212.23 L955.98,1209.30 L958.75,1205.86 L961.13,1201.94 L963.10,1197.56 L964.65,1192.77 L965.77,1187.60 L966.44,1182.08 L966.67,1176.26 Z" fill="#ffffff" stroke="#060806" stroke-width="6.2" stroke-linejoin="round" stroke-linecap="round"/>
<path d="M819.34,1117.72 L816.59,1119.58 L814.11,1121.86 L811.91,1124.54 L810.02,1127.59 L808.45,1131.01 L807.21,1134.76 L806.32,1138.81 L805.77,1143.13 L805.57,1147.69 L805.73,1152.45 L806.23,1157.38 L807.09,1162.45 L808.29,1167.60 L809.82,1172.80 L811.67,1178.02 L813.83,1183.22 L816.28,1188.34 L819.00,1193.36 L821.97,1198.24 L825.17,1202.94 L828.57,1207.42 L832.16,1211.65 L835.89,1215.59 L839.75,1219.23 L843.70,1222.52 L847.71,1225.45 L851.76,1227.99 L855.80,1230.12 L859.82,1231.83 L863.78,1233.11 L867.65,1233.93 L871.40,1234.31 L875.00,1234.23 L878.43,1233.69 L881.66,1232.71 L884.66,1231.28 L940.23,1199.27 L942.98,1197.41 L945.47,1195.13 L947.66,1192.45 L949.55,1189.39 L951.12,1185.98 L952.36,1182.23 L953.26,1178.18 L953.81,1173.86 L954.00,1169.30 L953.85,1164.54 L953.34,1159.61 L952.48,1154.54 L951.29,1149.39 L949.76,1144.18 L947.90,1138.96 L945.75,1133.77 L943.30,1128.65 L940.58,1123.63 L937.60,1118.75 L934.40,1114.05 L931.00,1109.57 L927.42,1105.34 L923.68,1101.40 L919.82,1097.76 L915.87,1094.47 L911.86,1091.54 L907.82,1089.00 L903.77,1086.87 L899.75,1085.16 L895.79,1083.88 L891.92,1083.06 L888.17,1082.68 L884.57,1082.76 L881.14,1083.29 L877.91,1084.28 L874.91,1085.71 Z" fill="#ffffff" stroke="none"/>
<path d="M940.23,1199.27 L942.32,1197.92 L944.26,1196.32 L946.04,1194.50 L947.66,1192.45 L949.11,1190.19 L950.38,1187.73 L951.46,1185.07 L952.36,1182.23 L953.06,1179.22 L953.57,1176.05 L953.89,1172.74 L954.00,1169.30 L953.92,1165.75 L953.64,1162.09 L953.16,1158.35 L952.48,1154.54 L951.62,1150.69 L950.56,1146.79 L949.32,1142.88 L947.90,1138.96 L946.31,1135.07 L944.56,1131.20 L942.64,1127.38 L940.58,1123.63 L938.37,1119.95 L936.03,1116.38 L933.57,1112.91 L931.00,1109.57 L928.33,1106.38 L925.57,1103.33 L922.73,1100.46 L919.82,1097.76 L916.87,1095.26 L913.87,1092.96 L910.85,1090.87 L907.82,1089.00 L904.78,1087.36 L901.75,1085.96 L898.75,1084.80 L895.79,1083.88 L892.88,1083.22 L890.03,1082.81 L887.26,1082.66 L884.57,1082.76 L881.98,1083.12 L879.50,1083.73 L877.14,1084.60 L874.91,1085.71" fill="none" stroke="#060806" stroke-width="6.2" stroke-linejoin="round" stroke-linecap="round"/>
<line x1="884.66" y1="1231.28" x2="940.23" y2="1199.27" stroke="#060806" stroke-width="6.2" stroke-linecap="round"/>
<line x1="819.34" y1="1117.72" x2="874.91" y2="1085.71" stroke="#060806" stroke-width="6.2" stroke-linecap="round"/>
<line x1="852.00" y1="1120.87" x2="907.57" y2="1088.86" stroke="#7a7a7a" stroke-width="2.2" stroke-linecap="butt"/>
<path d="M898.43,1201.03 L898.25,1196.26 L897.73,1191.32 L896.85,1186.25 L895.63,1181.09 L894.08,1175.88 L892.21,1170.66 L890.03,1165.47 L887.57,1160.35 L884.83,1155.34 L881.85,1150.47 L878.63,1145.79 L875.22,1141.32 L871.62,1137.11 L867.88,1133.18 L864.02,1129.57 L860.06,1126.29 L856.05,1123.39 L852.00,1120.87 L847.95,1118.76 L843.94,1117.08 L839.98,1115.83 L836.12,1115.03 L832.38,1114.68 L828.78,1114.79 L825.37,1115.35 L822.15,1116.36 L819.17,1117.82 L816.43,1119.70 L813.97,1122.01 L811.79,1124.71 L809.92,1127.79 L808.37,1131.23 L807.15,1134.99 L806.27,1139.06 L805.75,1143.39 L805.57,1147.97 L805.75,1152.74 L806.27,1157.68 L807.15,1162.75 L808.37,1167.91 L809.92,1173.12 L811.79,1178.34 L813.97,1183.53 L816.43,1188.65 L819.17,1193.66 L822.15,1198.53 L825.37,1203.21 L828.78,1207.68 L832.38,1211.89 L836.12,1215.82 L839.98,1219.43 L843.94,1222.71 L847.95,1225.61 L852.00,1228.13 L856.05,1230.24 L860.06,1231.92 L864.02,1233.17 L867.88,1233.97 L871.62,1234.32 L875.22,1234.21 L878.63,1233.65 L881.85,1232.64 L884.83,1231.18 L887.57,1229.30 L890.03,1226.99 L892.21,1224.29 L894.08,1221.21 L895.63,1217.77 L896.85,1214.01 L897.73,1209.94 L898.25,1205.61 L898.43,1201.03 Z" fill="#ffffff" stroke="#060806" stroke-width="6.2" stroke-linejoin="round" stroke-linecap="round"/>
<clipPath id="c5"><path d="M889.52,1195.94 L889.38,1192.08 L888.95,1188.09 L888.24,1183.99 L887.26,1179.83 L886.00,1175.62 L884.49,1171.40 L882.73,1167.21 L880.74,1163.07 L878.53,1159.02 L876.12,1155.08 L873.52,1151.30 L870.76,1147.69 L867.86,1144.29 L864.83,1141.11 L861.71,1138.19 L858.52,1135.55 L855.27,1133.20 L852.00,1131.16 L848.73,1129.46 L845.48,1128.10 L842.29,1127.09 L839.17,1126.44 L836.14,1126.16 L833.24,1126.25 L830.48,1126.70 L827.88,1127.52 L825.47,1128.70 L823.26,1130.22 L821.27,1132.08 L819.51,1134.26 L818.00,1136.75 L816.74,1139.53 L815.76,1142.57 L815.05,1145.86 L814.62,1149.36 L814.48,1153.06 L814.62,1156.92 L815.05,1160.91 L815.76,1165.01 L816.74,1169.17 L818.00,1173.38 L819.51,1177.60 L821.27,1181.79 L823.26,1185.93 L825.47,1189.98 L827.88,1193.92 L830.48,1197.70 L833.24,1201.31 L836.14,1204.71 L839.17,1207.89 L842.29,1210.81 L845.48,1213.45 L848.73,1215.80 L852.00,1217.84 L855.27,1219.54 L858.52,1220.90 L861.71,1221.91 L864.83,1222.56 L867.86,1222.84 L870.76,1222.75 L873.52,1222.30 L876.12,1221.48 L878.53,1220.30 L880.74,1218.78 L882.73,1216.92 L884.49,1214.74 L886.00,1212.25 L887.26,1209.47 L888.24,1206.43 L888.95,1203.14 L889.38,1199.64 L889.52,1195.94 Z"/></clipPath>
<g clip-path="url(#c5)">
<path d="M930.15,1172.54 L930.01,1168.68 L929.58,1164.69 L928.87,1160.59 L927.89,1156.42 L926.63,1152.21 L925.12,1148.00 L923.36,1143.80 L921.37,1139.67 L919.16,1135.61 L916.75,1131.68 L914.15,1127.90 L911.39,1124.29 L908.49,1120.88 L905.46,1117.71 L902.34,1114.79 L899.14,1112.14 L895.90,1109.79 L892.63,1107.76 L889.36,1106.06 L886.11,1104.70 L882.92,1103.69 L879.80,1103.04 L876.77,1102.76 L873.87,1102.85 L871.11,1103.30 L868.51,1104.12 L866.10,1105.29 L863.89,1106.82 L861.89,1108.68 L860.14,1110.86 L858.62,1113.35 L857.37,1116.13 L856.39,1119.17 L855.68,1122.46 L855.25,1125.96 L855.11,1129.66 L855.25,1133.52 L855.68,1137.51 L856.39,1141.60 L857.37,1145.77 L858.62,1149.98 L860.14,1154.20 L861.89,1158.39 L863.89,1162.53 L866.10,1166.58 L868.51,1170.51 L871.11,1174.30 L873.87,1177.91 L876.77,1181.31 L879.80,1184.49 L882.92,1187.41 L886.11,1190.05 L889.36,1192.40 L892.63,1194.43 L895.90,1196.14 L899.14,1197.50 L902.34,1198.51 L905.46,1199.15 L908.49,1199.43 L911.39,1199.35 L914.15,1198.89 L916.75,1198.08 L919.16,1196.90 L921.37,1195.38 L923.36,1193.52 L925.12,1191.33 L926.63,1188.84 L927.89,1186.07 L928.87,1183.02 L929.58,1179.74 L930.01,1176.23 L930.15,1172.54 Z" fill="none" stroke="#060806" stroke-width="6.2" stroke-linejoin="round" stroke-linecap="round"/>
</g>
<path d="M889.52,1195.94 L889.38,1192.08 L888.95,1188.09 L888.24,1183.99 L887.26,1179.83 L886.00,1175.62 L884.49,1171.40 L882.73,1167.21 L880.74,1163.07 L878.53,1159.02 L876.12,1155.08 L873.52,1151.30 L870.76,1147.69 L867.86,1144.29 L864.83,1141.11 L861.71,1138.19 L858.52,1135.55 L855.27,1133.20 L852.00,1131.16 L848.73,1129.46 L845.48,1128.10 L842.29,1127.09 L839.17,1126.44 L836.14,1126.16 L833.24,1126.25 L830.48,1126.70 L827.88,1127.52 L825.47,1128.70 L823.26,1130.22 L821.27,1132.08 L819.51,1134.26 L818.00,1136.75 L816.74,1139.53 L815.76,1142.57 L815.05,1145.86 L814.62,1149.36 L814.48,1153.06 L814.62,1156.92 L815.05,1160.91 L815.76,1165.01 L816.74,1169.17 L818.00,1173.38 L819.51,1177.60 L821.27,1181.79 L823.26,1185.93 L825.47,1189.98 L827.88,1193.92 L830.48,1197.70 L833.24,1201.31 L836.14,1204.71 L839.17,1207.89 L842.29,1210.81 L845.48,1213.45 L848.73,1215.80 L852.00,1217.84 L855.27,1219.54 L858.52,1220.90 L861.71,1221.91 L864.83,1222.56 L867.86,1222.84 L870.76,1222.75 L873.52,1222.30 L876.12,1221.48 L878.53,1220.30 L880.74,1218.78 L882.73,1216.92 L884.49,1214.74 L886.00,1212.25 L887.26,1209.47 L888.24,1206.43 L888.95,1203.14 L889.38,1199.64 L889.52,1195.94 Z" fill="none" stroke="#060806" stroke-width="6.2" stroke-linejoin="round" stroke-linecap="round"/>
<line x1="940.25" y1="771.00" x2="940.25" y2="946.00" stroke="#060806" stroke-width="2.4" stroke-linecap="butt"/>
<line x1="1116.00" y1="718.00" x2="1116.00" y2="860.00" stroke="#060806" stroke-width="2.4" stroke-linecap="butt"/>
<line x1="1139.70" y1="712.00" x2="1139.70" y2="946.00" stroke="#060806" stroke-width="2.4" stroke-linecap="butt"/>
<line x1="940.25" y1="846.00" x2="1116.00" y2="846.00" stroke="#060806" stroke-width="2.4" stroke-linecap="butt"/>
<path d="M940.25,846.00 L987.25,854.40 L987.25,837.60 Z" fill="#060806" stroke="none"/>
<path d="M1116.00,846.00 L1069.00,837.60 L1069.00,854.40 Z" fill="#060806" stroke="none"/>
<line x1="940.25" y1="932.00" x2="1139.70" y2="932.00" stroke="#060806" stroke-width="2.4" stroke-linecap="butt"/>
<path d="M940.25,932.00 L987.25,940.40 L987.25,923.60 Z" fill="#060806" stroke="none"/>
<path d="M1139.70,932.00 L1092.70,923.60 L1092.70,940.40 Z" fill="#060806" stroke="none"/>
<g transform="translate(972.50,787.50) rotate(0)" fill="none" stroke="#060806" stroke-width="3.8" stroke-linecap="butt" stroke-linejoin="miter" stroke-miterlimit="1.6"><path transform="translate(0.00,0)" d="M2,14.5 C2,6.6 7.9,1.9 15,1.9 C22.1,1.9 27.9,6.8 27.9,13.6 C27.9,17.6 26,20.6 22.6,24 L3.5,44.1 L30,44.1"/><path transform="translate(36.25,0)" d="M21.6,1.9 L4.2,27.2 M13.75,21.9 A11.85,11.2 0 1,0 13.75,44.3 A11.85,11.2 0 1,0 13.75,21.9 Z"/><path transform="translate(70.50,0)" d="M7.2,40.8 L2.2,51.5"/><path transform="translate(86.25,0)" d="M27.5,1.9 L7.8,1.9 L5.6,22.3 C8.6,19.2 11.6,17.6 15,17.6 C22.6,17.6 27.6,23.1 27.6,30.8 C27.6,38.5 22,44.1 14.8,44.1 C8.8,44.1 3.8,40.6 1.9,35.2"/></g>
<g transform="translate(1013.75,873.00) rotate(0)" fill="none" stroke="#060806" stroke-width="3.8" stroke-linecap="butt" stroke-linejoin="miter" stroke-miterlimit="1.6"><path transform="translate(0.00,0)" d="M2.5,11.5 C3.3,5.6 8.5,1.9 14.3,1.9 C20.4,1.9 25.3,5.9 25.3,11.4 C25.3,17.2 20.5,20.9 12.8,20.9 C21.6,20.9 28.1,25.8 28.1,33 C28.1,39.8 22.4,44.1 15,44.1 C8.2,44.1 2.9,40.5 1.9,34.5"/><path transform="translate(34.25,0)" d="M15,1.9 A13.1,21.1 0 1,0 15,44.1 A13.1,21.1 0 1,0 15,1.9 Z"/></g>
<line x1="1284.40" y1="573.10" x2="1628.75" y2="573.10" stroke="#060806" stroke-width="2.4" stroke-linecap="butt"/>
<line x1="1284.00" y1="758.30" x2="1381.40" y2="758.30" stroke="#060806" stroke-width="2.4" stroke-linecap="butt"/>
<line x1="1399.00" y1="758.30" x2="1628.75" y2="758.30" stroke="#060806" stroke-width="2.4" stroke-linecap="butt"/>
<line x1="1515.00" y1="435.60" x2="1515.00" y2="755.70" stroke="#060806" stroke-width="2.4" stroke-linecap="butt"/>
<path d="M1515.00,573.10 L1523.40,526.10 L1506.60,526.10 Z" fill="#060806" stroke="none"/>
<path d="M1515.00,665.60 L1506.60,712.60 L1523.40,712.60 Z" fill="#060806" stroke="none"/>
<line x1="1615.00" y1="574.00" x2="1615.00" y2="757.80" stroke="#060806" stroke-width="2.4" stroke-linecap="butt"/>
<path d="M1615.00,573.10 L1606.60,620.10 L1623.40,620.10 Z" fill="#060806" stroke="none"/>
<path d="M1615.00,758.30 L1623.40,711.30 L1606.60,711.30 Z" fill="#060806" stroke="none"/>
<line x1="1390.00" y1="535.50" x2="1390.00" y2="1054.00" stroke="#060806" stroke-width="2.4" stroke-linecap="butt"/>
<path d="M1390.00,626.00 L1398.40,579.00 L1381.60,579.00 Z" fill="#060806" stroke="none"/>
<path d="M1390.00,705.00 L1381.60,752.00 L1398.40,752.00 Z" fill="#060806" stroke="none"/>
<g transform="translate(1456.00,513.25) rotate(-90)" fill="none" stroke="#060806" stroke-width="3.8" stroke-linecap="butt" stroke-linejoin="miter" stroke-miterlimit="1.6"><path transform="translate(0.00,0)" d="M1.2,7 L9.5,1.9 L9.5,46"/><path transform="translate(28.25,0)" d="M30,32.5 L1.9,32.5 L23,1.9 L23,46"/></g>
<g transform="translate(1555.80,688.50) rotate(-90)" fill="none" stroke="#060806" stroke-width="3.8" stroke-linecap="butt" stroke-linejoin="miter" stroke-miterlimit="1.6"><path transform="translate(0.00,0)" d="M2,14.5 C2,6.6 7.9,1.9 15,1.9 C22.1,1.9 27.9,6.8 27.9,13.6 C27.9,17.6 26,20.6 22.6,24 L3.5,44.1 L30,44.1"/><path transform="translate(33.50,0)" d="M14.5,1.9 A9.6,9.8 0 1,0 14.5,21.5 A9.6,9.8 0 1,0 14.5,1.9 Z M14.5,21.8 A12.1,11.15 0 1,0 14.5,44.1 A12.1,11.15 0 1,0 14.5,21.8 Z"/></g>
<g transform="translate(1332.00,1032.20) rotate(-90)" fill="none" stroke="#060806" stroke-width="3.8" stroke-linecap="butt" stroke-linejoin="miter" stroke-miterlimit="1.6"><path transform="translate(0.00,0)" d="M21.6,1.9 L4.2,27.2 M13.75,21.9 A11.85,11.2 0 1,0 13.75,44.3 A11.85,11.2 0 1,0 13.75,21.9 Z"/><path transform="translate(30.50,0)" d="M1.5,27.6 L18.5,27.6"/><path transform="translate(59.80,0)" d="M1.2,7 L9.5,1.9 L9.5,46"/><path transform="translate(88.20,0)" d="M2,14.5 C2,6.6 7.9,1.9 15,1.9 C22.1,1.9 27.9,6.8 27.9,13.6 C27.9,17.6 26,20.6 22.6,24 L3.5,44.1 L30,44.1"/><path transform="translate(122.70,0)" d="M7.2,40.8 L2.2,51.5"/><path transform="translate(141.00,0)" d="M1.9,1.9 L27.5,1.9 L3.5,46"/><path transform="translate(175.30,0)" d="M21.6,1.9 L4.2,27.2 M13.75,21.9 A11.85,11.2 0 1,0 13.75,44.3 A11.85,11.2 0 1,0 13.75,21.9 Z"/></g>
<line x1="433.75" y1="334.00" x2="433.75" y2="532.00" stroke="#060806" stroke-width="2.4" stroke-linecap="butt"/>
<line x1="715.60" y1="495.60" x2="715.60" y2="700.00" stroke="#060806" stroke-width="2.4" stroke-linecap="butt"/>
<line x1="433.75" y1="347.00" x2="715.00" y2="507.50" stroke="#060806" stroke-width="2.4" stroke-linecap="butt"/>
<path d="M433.75,347.00 L463.46,373.63 L471.79,359.03 Z" fill="#060806" stroke="none"/>
<path d="M715.00,507.50 L685.29,480.87 L676.96,495.47 Z" fill="#060806" stroke="none"/>
<g transform="translate(586.10,365.30) rotate(30)" fill="none" stroke="#060806" stroke-width="3.8" stroke-linecap="butt" stroke-linejoin="miter" stroke-miterlimit="1.6"><path transform="translate(0.00,0)" d="M21.6,1.9 L4.2,27.2 M13.75,21.9 A11.85,11.2 0 1,0 13.75,44.3 A11.85,11.2 0 1,0 13.75,21.9 Z"/><path transform="translate(34.50,0)" d="M15,1.9 A13.1,21.1 0 1,0 15,44.1 A13.1,21.1 0 1,0 15,1.9 Z"/></g>
<line x1="300.60" y1="444.40" x2="445.00" y2="525.00" stroke="#060806" stroke-width="2.4" stroke-linecap="butt"/>
<line x1="298.50" y1="718.00" x2="424.00" y2="789.20" stroke="#060806" stroke-width="2.4" stroke-linecap="butt"/>
<line x1="308.50" y1="442.50" x2="308.50" y2="728.75" stroke="#060806" stroke-width="2.4" stroke-linecap="butt"/>
<path d="M308.50,442.50 L300.10,487.50 L316.90,487.50 Z" fill="#060806" stroke="none"/>
<path d="M308.50,728.75 L316.90,683.75 L300.10,683.75 Z" fill="#060806" stroke="none"/>
<g transform="translate(248.75,611.00) rotate(-90)" fill="none" stroke="#060806" stroke-width="3.8" stroke-linecap="butt" stroke-linejoin="miter" stroke-miterlimit="1.6"><path transform="translate(0.00,0)" d="M27.5,1.9 L7.8,1.9 L5.6,22.3 C8.6,19.2 11.6,17.6 15,17.6 C22.6,17.6 27.6,23.1 27.6,30.8 C27.6,38.5 22,44.1 14.8,44.1 C8.8,44.1 3.8,40.6 1.9,35.2"/><path transform="translate(34.50,0)" d="M15,1.9 A13.1,21.1 0 1,0 15,44.1 A13.1,21.1 0 1,0 15,1.9 Z"/></g>
<line x1="382.50" y1="525.60" x2="382.50" y2="834.20" stroke="#060806" stroke-width="2.4" stroke-linecap="butt"/>
<path d="M382.50,662.50 L390.90,623.50 L374.10,623.50 Z" fill="#060806" stroke="none"/>
<path d="M382.50,763.00 L374.10,804.00 L390.90,804.00 Z" fill="#060806" stroke="none"/>
<line x1="376.90" y1="660.00" x2="575.80" y2="762.00" stroke="#060806" stroke-width="2.4" stroke-linecap="butt"/>
<g transform="translate(323.75,610.50) rotate(-90)" fill="none" stroke="#060806" stroke-width="3.8" stroke-linecap="butt" stroke-linejoin="miter" stroke-miterlimit="1.6"><path transform="translate(0.00,0)" d="M2,14.5 C2,6.6 7.9,1.9 15,1.9 C22.1,1.9 27.9,6.8 27.9,13.6 C27.9,17.6 26,20.6 22.6,24 L3.5,44.1 L30,44.1"/><path transform="translate(34.50,0)" d="M15,1.9 A13.1,21.1 0 1,0 15,44.1 A13.1,21.1 0 1,0 15,1.9 Z"/></g>
<path d="M240.40,965.20 L374.50,965.20 L624.40,715.00" fill="none" stroke="#060806" stroke-width="2.4" stroke-linejoin="miter" stroke-linecap="butt"/>
<g transform="translate(260.70,905.80) rotate(0)" fill="none" stroke="#060806" stroke-width="3.8" stroke-linecap="butt" stroke-linejoin="miter" stroke-miterlimit="1.6"><path transform="translate(0.00,0)" d="M14.5,1.9 A9.6,9.8 0 1,0 14.5,21.5 A9.6,9.8 0 1,0 14.5,1.9 Z M14.5,21.8 A12.1,11.15 0 1,0 14.5,44.1 A12.1,11.15 0 1,0 14.5,21.8 Z"/><path transform="translate(34.30,0)" d="M7.2,40.8 L2.2,51.5"/><path transform="translate(51.30,0)" d="M2.5,11.5 C3.3,5.6 8.5,1.9 14.3,1.9 C20.4,1.9 25.3,5.9 25.3,11.4 C25.3,17.2 20.5,20.9 12.8,20.9 C21.6,20.9 28.1,25.8 28.1,33 C28.1,39.8 22.4,44.1 15,44.1 C8.2,44.1 2.9,40.5 1.9,34.5"/></g>
<line x1="730.00" y1="1091.00" x2="941.60" y2="969.00" stroke="#060806" stroke-width="2.4" stroke-linecap="butt"/>
<path d="M808.60,1046.60 L764.42,1061.91 L772.68,1076.54 Z" fill="#060806" stroke="none"/>
<path d="M878.00,1005.00 L922.17,989.65 L913.89,975.03 Z" fill="#060806" stroke="none"/>
<line x1="801.60" y1="1033.50" x2="846.00" y2="1110.00" stroke="#060806" stroke-width="2.4" stroke-linecap="butt"/>
<line x1="872.00" y1="993.00" x2="915.40" y2="1069.80" stroke="#060806" stroke-width="2.4" stroke-linecap="butt"/>
<g transform="translate(754.07,1008.10) rotate(-30)" fill="none" stroke="#060806" stroke-width="3.8" stroke-linecap="butt" stroke-linejoin="miter" stroke-miterlimit="1.6"><path transform="translate(0.00,0)" d="M1.2,7 L9.5,1.9 L9.5,46"/><path transform="translate(28.50,0)" d="M30,32.5 L1.9,32.5 L23,1.9 L23,46"/><path transform="translate(63.00,0)" d="M7.2,40.8 L2.2,51.5"/><path transform="translate(80.00,0)" d="M8.2,46.6 L25.8,21.3 M16.25,26.6 A11.85,11.2 0 1,0 16.25,4.2 A11.85,11.2 0 1,0 16.25,26.6 Z"/></g>
<path d="M1299.30,1214.80 L1071.90,1214.80 L970.05,1168.80" fill="none" stroke="#060806" stroke-width="2.4" stroke-linejoin="miter" stroke-linecap="butt"/>
<path d="M970.05,1168.80 L996.67,1190.04 L1003.58,1174.73 Z" fill="#060806" stroke="none"/>
<path d="M1269.40,1308.30 L1082.60,1308.30 L901.50,1203.10" fill="none" stroke="#060806" stroke-width="2.4" stroke-linejoin="miter" stroke-linecap="butt"/>
<path d="M901.50,1203.10 L927.98,1228.19 L936.42,1213.67 Z" fill="#060806" stroke="none"/>
<circle cx="1139.2" cy="1177.4" r="20.6" fill="none" stroke="#060806" stroke-width="2.3"/>
<line x1="1126.80" y1="1207.30" x2="1150.50" y2="1149.20" stroke="#060806" stroke-width="2.3" stroke-linecap="butt"/>
<g transform="translate(1175.50,1155.60) rotate(0)" fill="none" stroke="#060806" stroke-width="3.8" stroke-linecap="butt" stroke-linejoin="miter" stroke-miterlimit="1.6"><path transform="translate(0.00,0)" d="M2,14.5 C2,6.6 7.9,1.9 15,1.9 C22.1,1.9 27.9,6.8 27.9,13.6 C27.9,17.6 26,20.6 22.6,24 L3.5,44.1 L30,44.1"/><path transform="translate(34.10,0)" d="M27.5,1.9 L7.8,1.9 L5.6,22.3 C8.6,19.2 11.6,17.6 15,17.6 C22.6,17.6 27.6,23.1 27.6,30.8 C27.6,38.5 22,44.1 14.8,44.1 C8.8,44.1 3.8,40.6 1.9,35.2"/><path transform="translate(68.60,0)" d="M7.2,40.8 L2.2,51.5"/><path transform="translate(85.40,0)" d="M2,14.5 C2,6.6 7.9,1.9 15,1.9 C22.1,1.9 27.9,6.8 27.9,13.6 C27.9,17.6 26,20.6 22.6,24 L3.5,44.1 L30,44.1"/></g>
<circle cx="1149.8" cy="1272" r="20.6" fill="none" stroke="#060806" stroke-width="2.3"/>
<line x1="1137.40" y1="1301.90" x2="1161.10" y2="1243.80" stroke="#060806" stroke-width="2.3" stroke-linecap="butt"/>
<g transform="translate(1186.00,1249.60) rotate(0)" fill="none" stroke="#060806" stroke-width="3.8" stroke-linecap="butt" stroke-linejoin="miter" stroke-miterlimit="1.6"><path transform="translate(0.00,0)" d="M2,14.5 C2,6.6 7.9,1.9 15,1.9 C22.1,1.9 27.9,6.8 27.9,13.6 C27.9,17.6 26,20.6 22.6,24 L3.5,44.1 L30,44.1"/><path transform="translate(32.00,0)" d="M15,1.9 A13.1,21.1 0 1,0 15,44.1 A13.1,21.1 0 1,0 15,1.9 Z"/></g>
</svg></body></html>
